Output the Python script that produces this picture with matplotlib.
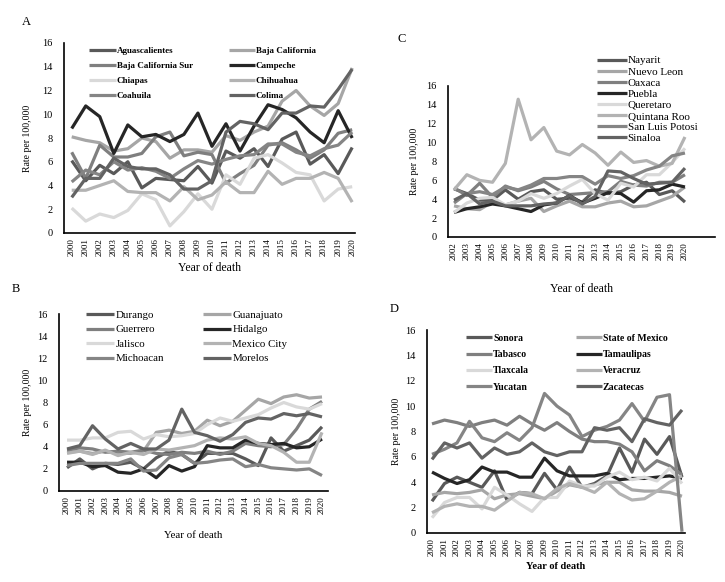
import matplotlib
matplotlib.use("Agg")
import matplotlib.pyplot as plt

plt.rcParams['font.family'] = ['Liberation Serif', 'DejaVu Serif']

years_full = list(range(2000, 2021))
years_c = list(range(2002, 2021))

# panel A
a_names = ['Aguascalientes', 'Baja California', 'Baja California Sur', 'Campeche',
           'Chiapas', 'Chihuahua', 'Coahuila', 'Colima']
aguascalientes = [6.1, 4.4, 5.7, 5.0, 6.0, 3.8, 4.6, 4.5, 4.4, 5.6, 4.2, 6.9, 6.3, 7.1, 5.6, 7.9, 8.5, 5.8, 6.6, 5.0, 7.2]
baja_california = [8.1, 7.8, 7.6, 6.9, 7.1, 8.0, 7.7, 6.3, 7.0, 7.0, 6.8, 8.2, 7.8, 8.5, 9.0, 11.1, 12.0, 10.7, 9.9, 10.9, 13.9]
baja_california_sur = [6.8, 4.6, 7.4, 6.4, 6.4, 6.7, 8.1, 8.5, 6.5, 6.8, 6.6, 4.2, 5.0, 5.7, 7.4, 7.6, 7.0, 6.3, 7.0, 8.4, 8.7]
campeche = [8.8, 10.7, 9.8, 6.7, 9.1, 8.1, 8.3, 7.7, 8.3, 10.1, 7.3, 9.2, 6.9, 9.0, 10.8, 10.4, 9.7, 8.5, 7.6, 10.3, 8.0]
chiapas = [2.1, 1.0, 1.6, 1.3, 1.9, 3.3, 2.8, 0.6, 1.8, 3.3, 2.0, 4.9, 4.1, 6.3, 6.6, 5.9, 5.1, 4.9, 2.7, 3.7, 3.9]
chihuahua = [3.6, 3.6, 4.0, 4.4, 3.5, 3.4, 3.4, 2.7, 3.9, 2.8, 3.2, 4.3, 3.4, 3.4, 5.2, 4.1, 4.6, 4.6, 5.1, 4.6, 2.6]
coahuila = [4.3, 5.3, 4.9, 6.0, 5.3, 5.5, 5.2, 4.6, 5.4, 6.1, 5.8, 6.2, 6.5, 6.6, 7.5, 7.5, 6.8, 6.5, 7.1, 7.4, 8.5]
colima = [3.0, 4.6, 4.6, 6.3, 5.6, 5.4, 5.4, 4.9, 3.7, 3.7, 4.4, 8.5, 9.4, 9.2, 8.7, 10.1, 10.1, 10.7, 10.6, 12.1, 13.8]

# panel B
b_names = ['Durango', 'Guanajuato', 'Guerrero', 'Hidalgo',
           'Jalisco', 'Mexico City', 'Michoacan', 'Morelos']
durango = [2.1, 2.9, 2.0, 2.5, 2.4, 2.6, 2.0, 3.0, 3.6, 3.3, 2.5, 3.4, 3.4, 3.4, 2.9, 2.3, 4.8, 3.6, 4.1, 4.6, 5.8]
guanajuato = [3.5, 3.6, 3.4, 3.6, 3.4, 3.4, 3.6, 5.3, 5.5, 5.2, 5.4, 6.4, 5.9, 6.3, 7.3, 8.3, 7.9, 8.5, 8.7, 8.4, 8.5]
guerrero = [3.7, 3.9, 3.8, 3.5, 3.6, 3.5, 3.7, 3.4, 3.3, 3.5, 3.4, 3.6, 3.3, 3.6, 4.3, 4.1, 4.0, 4.2, 5.6, 7.4, 8.1]
hidalgo = [2.6, 2.6, 2.2, 2.3, 1.7, 1.6, 2.0, 1.2, 2.3, 1.8, 2.2, 4.1, 3.9, 3.9, 4.6, 4.3, 4.2, 4.3, 3.9, 4.0, 4.7]
jalisco = [4.6, 4.6, 4.8, 4.8, 5.3, 5.4, 4.7, 5.1, 4.9, 5.0, 5.2, 6.0, 6.6, 6.3, 6.6, 6.9, 7.5, 8.0, 7.6, 7.4, 7.9]
mexico_city = [3.4, 3.6, 3.3, 3.7, 3.2, 3.5, 3.3, 3.8, 3.7, 3.9, 4.1, 4.6, 4.8, 4.7, 4.9, 4.3, 4.1, 3.5, 2.6, 2.6, 5.3]
michoacan = [2.3, 2.5, 2.5, 2.5, 2.5, 2.9, 1.8, 1.9, 3.0, 3.3, 2.5, 2.6, 2.8, 2.9, 2.2, 2.4, 2.1, 2.0, 1.9, 2.0, 1.4]
morelos = [3.8, 4.1, 5.9, 4.7, 3.8, 4.3, 3.8, 3.8, 4.6, 7.4, 5.3, 5.0, 4.5, 5.1, 6.2, 6.6, 6.5, 7.0, 6.8, 7.0, 6.7]

# panel C (2002-2020)
c_names = ['Nayarit', 'Nuevo Leon', 'Oaxaca', 'Puebla',
           'Queretaro', 'Quintana Roo', 'San Luis Potosi', 'Sinaloa']
nayarit = [5.1, 4.6, 3.9, 3.9, 5.0, 4.0, 4.8, 5.0, 4.0, 4.1, 3.7, 5.0, 4.6, 4.8, 5.5, 5.8, 4.5, 4.9, 3.7]
nuevo_leon = [3.3, 3.0, 2.9, 3.7, 3.4, 3.8, 4.1, 2.7, 3.3, 3.8, 3.2, 3.2, 3.6, 3.8, 3.2, 3.3, 3.8, 4.3, 5.3]
oaxaca = [5.2, 4.4, 5.7, 4.2, 5.4, 4.9, 5.3, 5.9, 5.1, 4.5, 4.6, 4.7, 4.8, 5.9, 5.5, 5.4, 5.8, 5.8, 6.6]
puebla = [2.6, 3.0, 3.2, 3.5, 3.3, 3.0, 2.7, 3.4, 3.6, 4.4, 3.6, 4.1, 4.7, 4.6, 3.7, 4.9, 5.0, 5.6, 5.3]
queretaro = [2.6, 3.6, 4.1, 4.2, 3.4, 3.8, 4.6, 4.1, 4.6, 5.4, 6.1, 4.6, 3.9, 5.7, 5.3, 6.6, 6.6, 7.9, 9.4]
quintana_roo = [5.0, 6.6, 6.0, 5.8, 7.8, 14.6, 10.3, 11.6, 9.1, 8.7, 9.8, 8.9, 7.6, 9.0, 7.9, 8.1, 7.5, 7.8, 10.6]
san_luis_potosi = [3.6, 4.6, 4.8, 4.5, 5.3, 5.0, 5.5, 6.2, 6.2, 6.4, 6.4, 5.6, 6.5, 6.2, 6.5, 7.1, 7.5, 8.6, 8.9]
sinaloa = [3.9, 4.6, 3.5, 3.8, 3.3, 3.3, 3.3, 3.5, 3.6, 4.4, 3.5, 4.3, 7.0, 6.9, 6.2, 5.6, 5.7, 5.8, 7.3]

# panel D
d_names = ['Sonora', 'State of Mexico', 'Tabasco', 'Tamaulipas',
           'Tlaxcala', 'Veracruz', 'Yucatan', 'Zacatecas']
sonora = [2.5, 3.9, 4.4, 4.0, 3.6, 4.9, 2.6, 3.2, 3.1, 4.7, 3.4, 5.2, 3.6, 3.9, 4.5, 6.7, 4.8, 7.4, 6.2, 7.6, 4.4]
state_of_mexico = [3.0, 3.2, 3.1, 3.2, 3.4, 2.7, 3.0, 3.1, 2.9, 2.7, 3.3, 3.8, 3.6, 3.8, 4.0, 4.0, 3.4, 3.3, 3.3, 3.2, 2.9]
tabasco = [8.6, 8.9, 8.7, 8.4, 8.7, 8.9, 8.5, 9.2, 8.6, 8.1, 8.7, 8.0, 7.4, 7.2, 7.2, 7.0, 6.4, 4.9, 5.7, 5.3, 4.6]
tamaulipas = [4.8, 4.3, 3.9, 4.2, 5.2, 4.8, 4.8, 4.4, 4.4, 5.9, 4.9, 4.5, 4.5, 4.5, 4.7, 4.2, 4.3, 4.3, 4.4, 4.5, 4.3]
tlaxcala = [1.2, 2.4, 2.8, 2.8, 1.9, 3.6, 3.0, 2.3, 1.7, 2.8, 2.8, 4.1, 3.7, 3.7, 4.4, 4.8, 4.2, 4.4, 4.1, 5.1, 3.9]
veracruz = [1.6, 2.1, 2.3, 2.1, 2.1, 1.8, 2.5, 3.2, 3.1, 2.7, 3.5, 3.9, 3.6, 3.2, 4.0, 3.1, 2.6, 2.7, 3.3, 4.0, 4.5]
yucatan = [6.2, 6.6, 7.1, 8.8, 7.5, 7.2, 7.9, 7.3, 8.3, 11.0, 10.0, 9.3, 7.6, 8.1, 8.4, 8.9, 10.2, 8.8, 10.7, 10.9, 0.1]
zacatecas = [5.8, 7.1, 6.7, 7.1, 5.9, 6.7, 6.2, 6.4, 7.1, 6.4, 6.1, 6.4, 6.4, 8.3, 8.1, 8.3, 7.2, 9.0, 8.7, 8.5, 9.7]

greys = ['#595959', '#a6a6a6', '#7f7f7f', '#262626', '#d9d9d9', '#b3b3b3', '#858585', '#636363']

fig = plt.figure(figsize=(7.25, 5.82), dpi=100)


def panel(rect, years, series, names, xlim, legend_kw, letter, letter_xy, ylab_x, xlab_kw):
    ax = fig.add_axes(rect)
    x = list(range(len(years)))
    handles = []
    for s, c in zip(series, greys):
        h, = ax.plot(x, s, color=c, lw=2.3, solid_capstyle='butt')
        handles.append(h)
    ax.set_ylim(0, 16)
    ax.set_yticks(range(0, 17, 2))
    ax.set_xlim(*xlim)
    ax.set_xticks(x)
    ax.set_xticklabels([str(y) for y in years], rotation=90, fontsize=6.5)
    ax.tick_params(axis='y', labelsize=7.5, length=0, pad=8)
    ax.tick_params(axis='x', length=0, pad=4)
    for sp in ['top', 'right']:
        ax.spines[sp].set_visible(False)
    ax.spines['left'].set_linewidth(1.2)
    ax.spines['bottom'].set_linewidth(1.2)
    ax.set_ylabel('Rate per 100,000', fontsize=7)
    ax.yaxis.set_label_coords(ylab_x, 0.5)
    ax.set_xlabel('Year of death', **xlab_kw)
    ncol = legend_kw.pop('ncol')
    if ncol == 2:
        order = list(range(0, 8, 2)) + list(range(1, 8, 2))
    else:
        order = list(range(8))
    ax.legend([handles[i] for i in order], [names[i] for i in order], ncol=ncol,
              frameon=False, handletextpad=0.1, borderaxespad=0, **legend_kw)
    fig.text(letter_xy[0], letter_xy[1], letter, fontsize=9)
    return ax


# A
axA = panel([64/725, 1-233/582, 291/725, 190/582], years_full,
            [aguascalientes, baja_california, baja_california_sur, campeche,
             chiapas, chihuahua, coahuila, colima], a_names,
            (-0.55, 20.2),
            dict(ncol=2, loc='upper left', bbox_to_anchor=(0.075, 1.0), handlelength=2.9,
                 columnspacing=4.0, labelspacing=0.75, prop=dict(size=6.5, weight='bold')),
            'A', (22/725, 1-25/582), -0.11, dict(fontsize=8.5, labelpad=4))

# C
axC = panel([448/725, 1-237/582, 267/725, 151/582], years_c,
            [nayarit, nuevo_leon, oaxaca, puebla, queretaro, quintana_roo,
             san_luis_potosi, sinaloa], c_names,
            (-0.47, 20.34),
            dict(ncol=1, loc='upper left', bbox_to_anchor=(0.54, 1.23), handlelength=2.7,
                 labelspacing=0.12, prop=dict(size=8)),
            'C', (397/725, 1-42/582), -0.11, dict(fontsize=8.5, labelpad=16))

# B
axB = panel([59/725, 1-491/582, 269/725, 177/582], years_full,
            [durango, guanajuato, guerrero, hidalgo, jalisco, mexico_city,
             michoacan, morelos], b_names,
            (-0.63, 20.47),
            dict(ncol=2, loc='upper left', bbox_to_anchor=(0.085, 1.045), handlelength=2.6,
                 columnspacing=3.6, labelspacing=0.45, prop=dict(size=7.8)),
            'B', (12/725, 1-292/582), -0.1, dict(fontsize=7.8, labelpad=12))

# D
axD = panel([427/725, 1-533/582, 258/725, 203/582], years_full,
            [sonora, state_of_mexico, tabasco, tamaulipas, tlaxcala, veracruz,
             yucatan, zacatecas], d_names,
            (-0.4, 20.24),
            dict(ncol=2, loc='upper left', bbox_to_anchor=(0.135, 1.0), handlelength=2.7,
                 columnspacing=4.8, labelspacing=0.75, prop=dict(size=7, weight='bold')),
            'D', (390/725, 1-312/582), -0.1, dict(fontsize=7.5, fontweight='bold', labelpad=4))

fig.savefig('out.png', dpi=100)
